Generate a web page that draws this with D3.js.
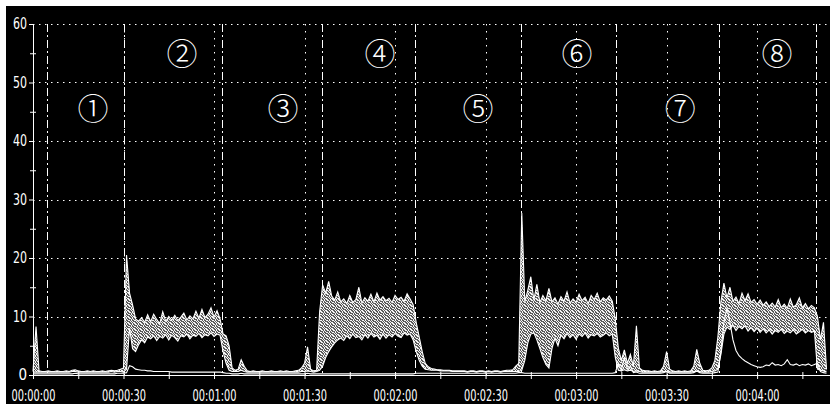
<!DOCTYPE html>
<html>
<head>
<meta charset="utf-8">
<script src="https://cdn.jsdelivr.net/npm/d3@7"></script>
<style>
  html, body { margin: 0; padding: 0; background: #fff; }
  svg { display: block; }
  .tick text { font-family: 'Liberation Sans Narrow', 'Arial Narrow', 'DejaVu Sans Condensed', sans-serif; font-size: 14px; fill: #fff; }
</style>
</head>
<body>
<div id="chart"></div>
<script>
// one sample per second, t = index (s)
const bandTop = [
  0.6, 8.3, 0.7, 0.6, 0.6, 0.7, 0.6, 0.6, 0.7, 0.6,
  0.6, 0.7, 0.6, 0.8, 0.9, 0.7, 0.6, 0.6, 0.7, 0.6,
  0.7, 0.6, 0.6, 0.7, 0.6, 0.7, 0.8, 0.7, 0.8, 1.0,
  1.2, 20.5, 14.0, 12.0, 9.6, 9.2, 9.8, 9.0, 10.3, 9.1,
  10.4, 9.5, 8.8, 10.8, 9.2, 10.0, 9.4, 10.2, 9.3, 9.9,
  10.6, 9.4, 10.1, 9.6, 10.9, 9.7, 11.2, 9.8, 10.4, 11.5,
  9.9, 11.0, 9.6, 7.0, 6.7, 5.0, 1.2, 0.8, 1.0, 2.6,
  1.5, 0.7, 0.6, 0.7, 0.6, 0.6, 0.7, 0.6, 0.6, 0.7,
  0.6, 0.6, 0.7, 0.6, 0.7, 0.6, 0.6, 0.7, 0.8, 1.2,
  2.0, 4.8, 1.0, 0.7, 0.8, 10.8, 15.4, 14.0, 16.0, 13.5,
  12.8, 14.2, 12.5, 13.0, 12.2, 13.6, 12.4, 12.9, 15.0, 12.3,
  13.2, 12.6, 13.8, 12.5, 14.0, 12.8, 13.4, 12.7, 13.1, 12.4,
  13.6, 12.9, 13.3, 12.6, 13.9, 13.0, 12.0, 9.0, 6.5, 4.0,
  2.0, 1.4, 1.1, 1.0, 0.9, 0.9, 0.8, 0.8, 0.8, 0.7,
  0.7, 0.7, 0.7, 0.7, 0.6, 0.7, 0.7, 0.6, 0.7, 0.7,
  0.6, 0.7, 0.6, 0.7, 0.7, 0.6, 0.7, 0.8, 0.8, 0.9,
  1.5, 2.0, 27.7, 12.5, 14.5, 16.8, 12.8, 15.5, 12.4, 13.6,
  12.7, 14.8, 12.5, 13.2, 12.1, 13.4, 12.6, 14.2, 12.3, 13.0,
  12.4, 13.8, 12.7, 13.3, 12.2, 13.6, 12.9, 14.0, 12.5, 13.2,
  12.8, 13.5, 12.6, 9.5, 4.6, 2.5, 4.3, 2.0, 3.5, 1.5,
  8.4, 1.2, 0.8, 0.7, 0.7, 0.6, 0.7, 0.6, 0.7, 1.5,
  4.0, 1.0, 0.7, 0.6, 0.7, 0.6, 0.7, 0.6, 0.7, 1.5,
  4.4, 2.0, 0.8, 0.7, 0.8, 1.2, 2.5, 6.5, 12.5, 15.7,
  13.2, 15.0, 12.6, 13.3, 12.2, 14.0, 12.7, 13.9, 12.4, 12.9,
  12.1, 12.8, 11.9, 12.5, 11.7, 12.3, 11.6, 12.9, 11.5, 12.1,
  11.4, 13.0, 11.6, 12.0, 13.2, 11.5, 12.2, 11.3, 11.9, 11.5,
  10.0, 6.0, 9.0, 1.0
];

const bandBottom = [
  0.5, 0.5, 0.5, 0.5, 0.5, 0.5, 0.5, 0.5, 0.5, 0.5,
  0.5, 0.5, 0.5, 0.6, 0.6, 0.5, 0.5, 0.5, 0.5, 0.5,
  0.5, 0.5, 0.5, 0.5, 0.5, 0.5, 0.6, 0.5, 0.6, 0.6,
  0.5, 1.0, 8.0, 4.5, 4.0, 5.2, 6.0, 5.5, 6.5, 6.2,
  6.7, 5.9, 6.6, 6.3, 6.9, 6.0, 6.8, 6.4, 5.8, 6.7,
  6.5, 7.0, 6.2, 6.8, 6.6, 7.1, 6.4, 6.9, 6.7, 7.2,
  6.6, 7.0, 6.8, 4.0, 2.0, 0.8, 0.6, 0.6, 0.6, 0.8,
  0.6, 0.5, 0.5, 0.5, 0.5, 0.5, 0.5, 0.5, 0.5, 0.5,
  0.5, 0.5, 0.5, 0.5, 0.5, 0.5, 0.5, 0.5, 0.5, 0.6,
  0.6, 0.7, 0.6, 0.5, 0.6, 0.8, 1.5, 3.0, 4.0, 4.8,
  5.5, 6.0, 6.3, 5.9, 6.7, 6.2, 7.0, 6.4, 6.6, 6.0,
  6.9, 6.3, 7.1, 6.5, 6.8, 6.1, 7.0, 6.3, 6.9, 6.5,
  7.1, 6.6, 6.4, 7.2, 6.8, 7.0, 6.0, 4.0, 2.5, 1.5,
  1.0, 0.9, 0.8, 0.8, 0.8, 0.7, 0.7, 0.7, 0.7, 0.6,
  0.6, 0.6, 0.6, 0.6, 0.5, 0.6, 0.6, 0.5, 0.6, 0.6,
  0.5, 0.6, 0.5, 0.6, 0.6, 0.5, 0.6, 0.6, 0.6, 0.6,
  0.6, 0.6, 0.8, 2.5, 5.5, 7.0, 7.2, 6.0, 4.5, 3.0,
  1.8, 1.2, 4.5, 6.3, 5.0, 6.8, 6.2, 7.1, 6.4, 6.9,
  6.1, 7.0, 6.6, 7.2, 6.3, 6.9, 6.7, 7.1, 6.5, 6.8,
  7.2, 6.7, 7.0, 3.0, 0.8, 0.7, 0.9, 0.7, 0.8, 0.6,
  0.7, 0.6, 0.5, 0.5, 0.5, 0.5, 0.5, 0.5, 0.5, 0.6,
  0.6, 0.5, 0.5, 0.5, 0.5, 0.5, 0.5, 0.5, 0.5, 0.6,
  0.6, 0.6, 0.5, 0.5, 0.5, 0.6, 0.7, 1.0, 3.5, 7.0,
  8.2, 7.8, 8.5, 7.6, 8.3, 7.9, 8.4, 7.5, 8.1, 7.4,
  8.0, 7.3, 7.9, 7.2, 7.7, 7.0, 7.6, 7.3, 7.8, 7.1,
  7.5, 7.2, 7.7, 7.0, 7.4, 7.8, 7.2, 7.6, 7.3, 7.5,
  1.0, 0.8, 0.7, 0.5
];

const channelB = [
  0.2, 0.2, 0.2, 0.2, 0.2, 0.2, 0.2, 0.2, 0.2, 0.2,
  0.2, 0.2, 0.2, 0.2, 0.3, 0.2, 0.2, 0.2, 0.2, 0.2,
  0.2, 0.2, 0.2, 0.2, 0.2, 0.2, 0.2, 0.2, 0.3, 0.3,
  0.3, 0.4, 1.6, 1.4, 1.0, 0.9, 0.8, 0.8, 0.7, 0.7,
  0.6, 0.6, 0.6, 0.6, 0.6, 0.6, 0.5, 0.5, 0.5, 0.5,
  0.5, 0.5, 0.5, 0.5, 0.5, 0.5, 0.5, 0.5, 0.5, 0.5,
  0.5, 0.5, 0.5, 0.4, 0.3, 0.3, 0.2, 0.2, 0.2, 0.3,
  0.2, 0.2, 0.2, 0.2, 0.2, 0.2, 0.2, 0.2, 0.2, 0.2,
  0.2, 0.2, 0.2, 0.2, 0.2, 0.2, 0.2, 0.2, 0.2, 0.2,
  0.2, 0.3, 0.2, 0.2, 0.2, 0.2, 0.2, 0.2, 0.2, 0.2,
  0.2, 0.2, 0.2, 0.2, 0.2, 0.2, 0.2, 0.2, 0.2, 0.2,
  0.2, 0.2, 0.2, 0.2, 0.2, 0.2, 0.2, 0.2, 0.2, 0.2,
  0.2, 0.2, 0.2, 0.2, 0.2, 0.2, 0.2, 0.3, 0.3, 0.3,
  0.3, 0.3, 0.3, 0.3, 0.3, 0.3, 0.3, 0.3, 0.3, 0.3,
  0.3, 0.3, 0.3, 0.3, 0.3, 0.3, 0.3, 0.3, 0.3, 0.3,
  0.3, 0.3, 0.3, 0.3, 0.3, 0.3, 0.3, 0.3, 0.3, 0.3,
  0.3, 0.4, 0.4, 0.3, 0.3, 0.3, 0.3, 0.3, 0.3, 0.3,
  0.3, 0.3, 0.3, 0.3, 0.3, 0.3, 0.3, 0.3, 0.3, 0.3,
  0.3, 0.3, 0.3, 0.3, 0.3, 0.3, 0.3, 0.3, 0.3, 0.3,
  0.3, 0.3, 0.3, 0.4, 2.0, 0.8, 3.0, 1.0, 1.5, 0.4,
  0.5, 0.3, 0.3, 0.3, 0.3, 0.3, 0.3, 0.3, 0.3, 0.4,
  0.6, 0.3, 0.3, 0.3, 0.3, 0.3, 0.3, 0.3, 0.3, 0.4,
  0.7, 0.4, 0.3, 0.3, 0.3, 0.3, 0.4, 0.5, 4.0, 9.0,
  11.5, 9.0, 6.0, 4.2, 3.3, 2.8, 2.4, 2.1, 1.8, 1.6,
  1.4, 1.3, 1.4, 1.7, 1.6, 2.1, 1.7, 1.8, 1.6, 1.9,
  2.6, 1.8, 1.7, 1.9, 1.6, 1.8, 1.7, 1.9, 1.6, 1.8,
  2.0, 0.6, 0.4, 0.3
];

const yTicks = [0, 10, 20, 30, 40, 50, 60];
const yMinorTicks = [5, 15, 25, 35, 45, 55];
const xTickSeconds = [0, 30, 60, 90, 120, 150, 180, 210, 240];
const xTickLabels = ["00:00:00", "00:00:30", "00:01:00", "00:01:30", "00:02:00",
                     "00:02:30", "00:03:00", "00:03:30", "00:04:00"];
const xMinorTicks = [15, 45, 75, 105, 135, 165, 195, 225, 255];
// phase boundaries (s)
const phaseMarks = [4.6, 30.2, 62.6, 95.8, 126.6, 161.7, 193.2, 227.4, 259.5];
const phaseNames = ["①", "②", "③", "④", "⑤", "⑥", "⑦", "⑧"];
const phaseNameT = [19.9, 49.4, 82.9, 115, 147.5, 180.3, 214.5, 246.6];
const phaseNameV = [45.5, 54.9, 45.5, 54.9, 45.5, 54.9, 45.5, 54.9];

const width = 830, height = 404;

const svg = d3.select("#chart").append("svg")
    .attr("width", width)
    .attr("height", height);

// speckled fill for the dense band
const defs = svg.append("defs");
const pat = defs.append("pattern")
    .attr("id", "stipple")
    .attr("width", 6).attr("height", 6)
    .attr("patternUnits", "userSpaceOnUse");
pat.append("rect").attr("width", 6).attr("height", 6).attr("fill", "#5a5a5a");
[[0, 0], [3, 0], [4, 0], [1, 1], [5, 1], [2, 2], [3, 2], [0, 3], [4, 3],
 [1, 4], [2, 4], [5, 4], [0, 5], [3, 5], [5, 2], [2, 5]].forEach(p => {
    pat.append("rect").attr("x", p[0]).attr("y", p[1]).attr("width", 1).attr("height", 1).attr("fill", "#f4f4f4");
});

svg.append("rect").attr("width", width).attr("height", height).attr("fill", "#fff");
svg.append("rect").attr("x", 6).attr("y", 6).attr("width", width - 6).attr("height", height - 6).attr("fill", "#000");

const x = d3.scaleLinear().domain([0, 263]).range([33, 826.5]);
const y = d3.scaleLinear().domain([0, 60]).range([375, 24]);

// grid
const grid = svg.append("g").attr("stroke", "#fff").attr("stroke-width", 1);
grid.selectAll(".hgrid")
    .data(yTicks.slice(1))
    .enter().append("line")
    .attr("x1", x(0)).attr("x2", 828)
    .attr("y1", d => Math.round(y(d)) + 0.5).attr("y2", d => Math.round(y(d)) + 0.5)
    .attr("stroke-dasharray", "1.5,4.5");
grid.selectAll(".vgrid")
    .data(xTickSeconds.slice(1))
    .enter().append("line")
    .attr("x1", d => Math.round(x(d)) + 0.5).attr("x2", d => Math.round(x(d)) + 0.5)
    .attr("y1", y(60)).attr("y2", y(0))
    .attr("stroke-dasharray", "1.5,5.5");
grid.selectAll(".phase")
    .data(phaseMarks)
    .enter().append("line")
    .attr("x1", d => Math.round(x(d)) + 0.5).attr("x2", d => Math.round(x(d)) + 0.5)
    .attr("y1", y(60)).attr("y2", y(0))
    .attr("stroke-dasharray", "8,3,2,3");

// data
const area = d3.area()
    .x((d, i) => x(i))
    .y0((d, i) => y(bandBottom[i]))
    .y1(d => y(d));
const line = d3.line().x((d, i) => x(i)).y(d => y(d));

svg.append("path")
    .datum(bandTop)
    .attr("d", area)
    .attr("fill", "url(#stipple)");
svg.append("path")
    .datum(bandTop)
    .attr("d", line)
    .attr("fill", "none").attr("stroke", "#fff").attr("stroke-width", 1.1);
svg.append("path")
    .datum(bandBottom)
    .attr("d", line)
    .attr("fill", "none").attr("stroke", "#fff").attr("stroke-width", 1.1);
svg.append("path")
    .datum(channelB)
    .attr("d", line)
    .attr("fill", "none").attr("stroke", "#fff").attr("stroke-width", 1.1);

// axes
const xAxis = d3.axisBottom(x)
    .tickValues(xTickSeconds)
    .tickFormat((d, i) => xTickLabels[i])
    .tickSize(4)
    .tickSizeOuter(0);
const gx = svg.append("g")
    .attr("transform", `translate(0,${y(0)})`)
    .call(xAxis);
gx.select(".domain").attr("d", `M${x(0)},0.5H830`);
gx.selectAll("text")
    .attr("y", 26).attr("dy", 0)
    .style("font-size", "15px")
    .attr("textLength", 44)
    .attr("lengthAdjust", "spacingAndGlyphs");

svg.append("g")
    .attr("transform", `translate(0,${y(0)})`)
    .call(d3.axisTop(x).tickValues(xTickSeconds.concat(xMinorTicks)).tickFormat("").tickSize(3).tickSizeOuter(0))
    .call(g => g.select(".domain").remove());
svg.append("g")
    .attr("transform", `translate(0,${y(0)})`)
    .call(d3.axisBottom(x).tickValues(xMinorTicks).tickFormat("").tickSize(4).tickSizeOuter(0))
    .call(g => g.select(".domain").remove());

const yAxis = d3.axisLeft(y)
    .tickValues(yTicks)
    .tickSize(4)
    .tickPadding(2)
    .tickSizeOuter(0);
const gy = svg.append("g")
    .attr("transform", `translate(${x(0)},0)`)
    .call(yAxis);
gy.selectAll("text").style("font-size", "15px");
gy.selectAll("text").filter(d => d >= 10)
    .attr("textLength", 14)
    .attr("lengthAdjust", "spacingAndGlyphs");
svg.append("g")
    .attr("transform", `translate(${x(0)},0)`)
    .call(d3.axisLeft(y).tickValues(yMinorTicks).tickFormat("").tickSize(3).tickSizeOuter(0))
    .call(g => g.select(".domain").remove());
svg.append("g")
    .attr("transform", `translate(${x(0)},0)`)
    .call(d3.axisRight(y).tickValues(yMinorTicks).tickFormat("").tickSize(3).tickSizeOuter(0))
    .call(g => g.select(".domain").remove());

svg.selectAll(".domain, .tick line").attr("stroke", "#fff");

// phase numbers
svg.append("g")
    .selectAll("text")
    .data(phaseNames)
    .enter().append("text")
    .attr("x", (d, i) => x(phaseNameT[i]))
    .attr("y", (d, i) => y(phaseNameV[i]))
    .attr("text-anchor", "middle")
    .attr("dominant-baseline", "central")
    .attr("fill", "#fff")
    .style("font-family", "'DejaVu Serif', 'Noto Sans CJK JP', serif")
    .style("font-weight", 300)
    .style("font-size", "31px")
    .text(d => d);
</script>
</body>
</html>
